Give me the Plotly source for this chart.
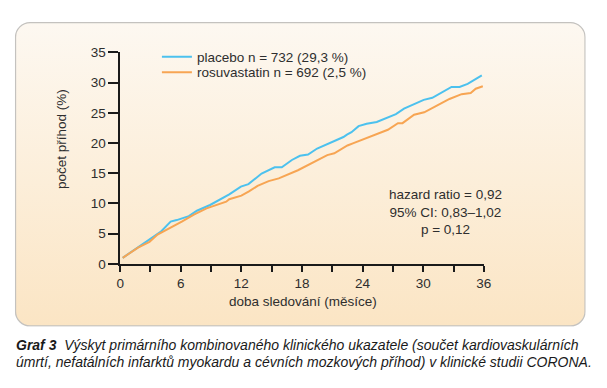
import base64
import plotly.graph_objects as go

# ---- data ----
placebo_months = [0.25, 1.77, 3.4, 4.0, 5.0, 5.6, 6.8, 7.6, 8.9, 10.3, 10.8, 11.95, 12.7,
                  14.0, 15.3, 16.0, 17.0, 17.8, 18.6, 19.5, 20.5, 22.1, 22.45, 22.9, 23.6,
                  24.4, 25.4, 26.5, 27.3, 28.1, 29.2, 30.05, 30.9, 32.0, 32.8, 33.6, 34.4, 35.8]
placebo_pct = [1.0, 2.7, 4.6, 5.3, 7.0, 7.25, 7.9, 8.8, 9.75, 11.0, 11.5, 12.8, 13.2,
               14.95, 16.0, 16.0, 17.2, 17.9, 18.1, 19.1, 19.8, 21.0, 21.4, 21.8, 22.8,
               23.2, 23.5, 24.2, 24.8, 25.7, 26.5, 27.15, 27.5, 28.5, 29.3, 29.3, 29.8, 31.2]

rosu_months = [0.25, 1.77, 2.9, 3.7, 6.1, 7.3, 8.55, 10.0, 10.5, 10.8, 11.6, 12.0, 12.75,
               13.6, 14.7, 15.7, 17.6, 19.5, 20.5, 21.2, 22.5, 23.1, 23.7, 24.4, 25.0,
               26.5, 27.5, 27.95, 29.1, 30.1, 31.35, 32.6, 33.8, 34.7, 35.2, 35.9]
rosu_pct = [1.0, 2.7, 3.65, 4.86, 7.0, 8.15, 9.2, 10.06, 10.3, 10.7, 11.1, 11.3, 12.0,
            12.9, 13.7, 14.15, 15.5, 17.2, 18.0, 18.3, 19.6, 20.0, 20.4, 20.9, 21.3,
            22.2, 23.3, 23.3, 24.7, 25.1, 26.2, 27.3, 28.1, 28.3, 29.0, 29.4]

series_names = ["placebo n = 732 (29,3 %)", "rosuvastatin n = 692 (2,5 %)"]
x_tickvals = [0, 3, 6, 9, 12, 15, 18, 21, 24, 27, 30, 33, 36]
x_ticktext = ["0", "", "6", "", "12", "", "18", "", "24", "", "30", "", "36"]
y_tickvals = [0, 5, 10, 15, 20, 25, 30, 35]
x_title = "doba sledování (měsíce)"
y_title = "počet příhod (%)"
stats_text = "hazard ratio = 0,92<br>95% CI: 0,83–1,02<br>p = 0,12"
caption_1 = "<b>Graf 3</b>  Výskyt primárního kombinovaného klinického ukazatele (součet kardiovaskulárních"
caption_2 = "úmrtí, nefatálních infarktů myokardu a cévních mozkových příhod) v klinické studii CORONA."

# ---- layout helpers (pixel -> paper) ----
W, H = 607, 388
def px(x):
    return x / W
def py(y):
    return 1 - y / H

FONT = "Liberation Sans, Arial, sans-serif"
TXT = "#2e2e2e"

# card background: rounded rect with vertical gradient (svg image)
cx0, cy0, cx1, cy1 = 11, 15.5, 593.5, 332.5
cw, ch = cx1 - cx0, cy1 - cy0
svg = f'''<svg xmlns="http://www.w3.org/2000/svg" width="{cw}" height="{ch}" viewBox="0 0 {cw} {ch}" preserveAspectRatio="none">
<defs><linearGradient id="g" x1="0" y1="0" x2="0" y2="1">
<stop offset="0" stop-color="#fdf8f1"/><stop offset="1" stop-color="#fbe5c4"/></linearGradient></defs>
<rect x="0.75" y="0.75" width="{cw-1.5}" height="{ch-1.5}" rx="15" ry="15" fill="url(#g)" stroke="#c4c2bf" stroke-width="1.3"/>
</svg>'''
svg_uri = "data:image/svg+xml;base64," + base64.b64encode(svg.encode()).decode()

fig = go.Figure()
fig.add_trace(go.Scatter(x=placebo_months, y=placebo_pct, mode="lines", name=series_names[0],
                         line=dict(color="#4cc1ee", width=2), legend="legend"))
fig.add_trace(go.Scatter(x=rosu_months, y=rosu_pct, mode="lines", name=series_names[1],
                         line=dict(color="#f7a553", width=2), legend="legend2"))

ax_x0, ax_x1 = 118.5, 489.5
ax_y0, ax_y1 = 47.3, 267.2

leg_common = dict(xanchor="left", yanchor="middle", bgcolor="rgba(0,0,0,0)", borderwidth=0,
                  font=dict(family=FONT, size=13.5, color=TXT), itemwidth=30)

fig.update_layout(
    width=W, height=H, autosize=False,
    margin=dict(l=0, r=0, t=0, b=0),
    paper_bgcolor="white", plot_bgcolor="rgba(0,0,0,0)",
    font=dict(family=FONT, size=13.5, color=TXT),
    showlegend=True,
    legend=dict(x=px(156), y=py(52), **leg_common),
    legend2=dict(x=px(156), y=py(68), **leg_common),
    xaxis=dict(domain=[px(ax_x0), px(ax_x1)], range=[0, 36], showgrid=False, zeroline=False,
               showline=True, linecolor="#1a1a1a", linewidth=1.5,
               ticks="outside", ticklen=6, tickwidth=1.5, tickcolor="#1a1a1a",
               tickvals=x_tickvals, ticktext=x_ticktext,
               tickfont=dict(family=FONT, size=13.5, color=TXT), fixedrange=True),
    yaxis=dict(domain=[py(ax_y1), py(ax_y0)], range=[0, 35], showgrid=False, zeroline=False,
               showline=True, linecolor="#1a1a1a", linewidth=1.5,
               ticks="outside", ticklen=10, tickwidth=1.5, tickcolor="#1a1a1a",
               tickvals=y_tickvals,
               tickfont=dict(family=FONT, size=13.5, color=TXT), fixedrange=True),
    images=[dict(source=svg_uri, xref="paper", yref="paper", x=px(cx0), y=py(cy0),
                 sizex=cw / W, sizey=ch / H, xanchor="left", yanchor="top",
                 sizing="stretch", layer="below")],
    annotations=[
        dict(text=x_title, xref="paper", yref="paper", x=px(305), y=py(306),
             showarrow=False, xanchor="center", yanchor="middle",
             font=dict(family=FONT, size=13.5, color=TXT)),
        dict(text=y_title, xref="paper", yref="paper", x=px(58.5), y=py(137),
             showarrow=False, xanchor="center", yanchor="middle", textangle=-90,
             font=dict(family=FONT, size=13.5, color=TXT)),
        dict(text=stats_text, xref="paper", yref="paper", x=px(450), y=py(213),
             showarrow=False, xanchor="center", yanchor="middle", align="center",
             font=dict(family=FONT, size=13.5, color=TXT)),
        dict(text="<i>" + caption_1 + "</i>", xref="paper", yref="paper", x=px(10), y=py(352),
             showarrow=False, xanchor="left", yanchor="middle", align="left",
             font=dict(family=FONT, size=14, color="#1a1a1a")),
        dict(text="<i>" + caption_2 + "</i>", xref="paper", yref="paper", x=px(10), y=py(369),
             showarrow=False, xanchor="left", yanchor="middle", align="left",
             font=dict(family=FONT, size=14, color="#1a1a1a")),
    ],
)

fig.write_html("out.html", config={"displayModeBar": False},
               post_script="document.documentElement.style.margin='0';document.body.style.margin='0';document.body.style.padding='0';")
